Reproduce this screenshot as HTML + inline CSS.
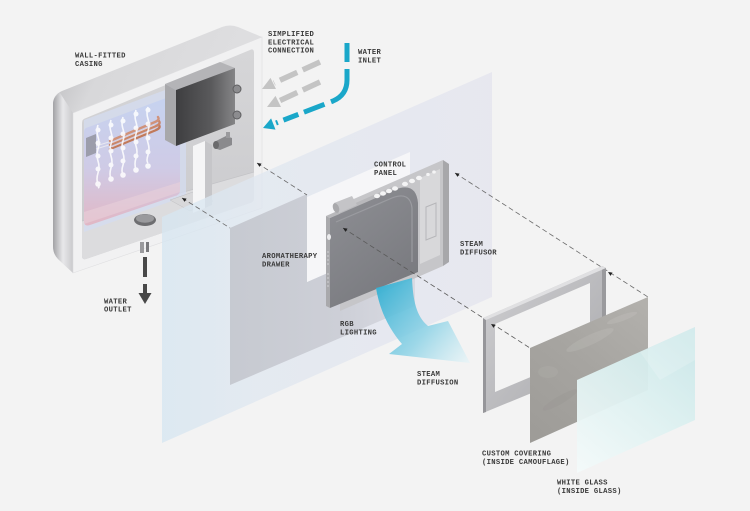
<!DOCTYPE html>
<html><head><meta charset="utf-8">
<style>
html,body{margin:0;padding:0;background:#f3f3f3;}
svg{display:block}
text{font-family:"Liberation Mono",monospace;font-size:7.2px;font-weight:bold;fill:#3a3a3a;letter-spacing:0.3px}
</style></head><body>
<svg width="750" height="511" viewBox="0 0 750 511" xmlns="http://www.w3.org/2000/svg">
<defs>
  <linearGradient id="shell" x1="0" y1="0" x2="1" y2="0.6">
    <stop offset="0" stop-color="#b4b4b7"/><stop offset="0.25" stop-color="#d8d8da"/><stop offset="1" stop-color="#e2e2e4"/>
  </linearGradient>
  <linearGradient id="shellL" x1="53" y1="0" x2="73" y2="0" gradientUnits="userSpaceOnUse">
    <stop offset="0" stop-color="#a2a2a5"/><stop offset="0.5" stop-color="#e8e8ea"/><stop offset="1" stop-color="#c9c9cc"/>
  </linearGradient>
  <linearGradient id="cav" x1="0" y1="0" x2="0" y2="1">
    <stop offset="0" stop-color="#d6d6d8"/><stop offset="1" stop-color="#c9c9cc"/>
  </linearGradient>
  <linearGradient id="tank" x1="0" y1="95" x2="0" y2="228" gradientUnits="userSpaceOnUse">
    <stop offset="0" stop-color="#c6d3f0"/><stop offset="0.55" stop-color="#cfcbe6"/><stop offset="1" stop-color="#e2b6c3"/>
  </linearGradient>
  <linearGradient id="ebox" x1="176" y1="0" x2="235" y2="0" gradientUnits="userSpaceOnUse">
    <stop offset="0" stop-color="#3e3e40"/><stop offset="0.6" stop-color="#5a5a5c"/><stop offset="1" stop-color="#858587"/>
  </linearGradient>
  <linearGradient id="pale" x1="162" y1="0" x2="492" y2="0" gradientUnits="userSpaceOnUse">
    <stop offset="0" stop-color="#d6e6f1"/><stop offset="0.3" stop-color="#e0e7f0"/><stop offset="1" stop-color="#e4e4ee"/>
  </linearGradient>
  <linearGradient id="greyp" x1="230" y1="0" x2="415" y2="0" gradientUnits="userSpaceOnUse">
    <stop offset="0" stop-color="#c4c7ce"/><stop offset="0.6" stop-color="#cbcdd5"/><stop offset="1" stop-color="#d8d9e1"/>
  </linearGradient>
  <linearGradient id="body" x1="330" y1="190" x2="418" y2="300" gradientUnits="userSpaceOnUse">
    <stop offset="0" stop-color="#8e8f94"/><stop offset="1" stop-color="#76777c"/>
  </linearGradient>
  <linearGradient id="steam" x1="378" y1="285" x2="470" y2="362" gradientUnits="userSpaceOnUse">
    <stop offset="0" stop-color="#34b0d3" stop-opacity="0.95"/><stop offset="0.55" stop-color="#86d0e5" stop-opacity="0.8"/><stop offset="1" stop-color="#e4f4f8" stop-opacity="0.6"/>
  </linearGradient>
  <linearGradient id="frame" x1="0" y1="0" x2="1" y2="1">
    <stop offset="0" stop-color="#cfcfd2"/><stop offset="1" stop-color="#a9a9ac"/>
  </linearGradient>
  <linearGradient id="stone" x1="648" y1="297" x2="530" y2="443" gradientUnits="userSpaceOnUse">
    <stop offset="0" stop-color="#b3b1ad"/><stop offset="0.5" stop-color="#a6a4a0"/><stop offset="1" stop-color="#9d9b97"/>
  </linearGradient>
  <linearGradient id="glass" x1="695" y1="327" x2="577" y2="472" gradientUnits="userSpaceOnUse">
    <stop offset="0" stop-color="#c8e6e8"/><stop offset="0.45" stop-color="#dcf0f0"/><stop offset="1" stop-color="#f4fafa"/>
  </linearGradient>
  <clipPath id="stoneclip"><polygon points="530,348 648,297 648,390 530,443"/></clipPath>
  <path id="ah" d="M0,0 L-4.2,-1.9 L-4.2,1.9 Z" fill="#222"/>
</defs>

<rect width="750" height="511" fill="#f3f3f3"/>

<!-- ============ CASING ============ -->
<path d="M73,273 L58,259 Q53,254 53,246 L53,104 Q53,95 62,91 L222,27 Q230,24 238,27 L262,37 L73,113 Z" fill="url(#shell)"/>
<path d="M73,273 L58,259 Q53,254 53,246 L53,104 Q53,97 60,93 L73,113 Z" fill="url(#shellL)"/>
<polygon points="73,113 262,37 262,208 73,273" fill="#f1f1f2" stroke="#dedee0" stroke-width="0.6"/>
<path d="M86,118 L250,50 Q254,48 254,53 L254,198 Q254,202 250,203 L86,259 Q82,260 82,256 L82,123 Q82,119 86,118 Z" fill="url(#cav)"/>
<path d="M82,221 L254,172 L254,198 Q254,202 250,203 L86,259 Q82,260 82,256 Z" fill="#dcdcde"/>
<line x1="82" y1="221" x2="254" y2="172" stroke="#c4c4c7" stroke-width="0.8"/>
<path d="M84,120 L176,86 L186,89 L186,196 L84,232 Z" fill="#d4dcf0" opacity="0.75"/>
<path d="M86,128 L174,95 Q180,93 180,99 L180,190 Q180,195 175,196 L90,225 Q84,227 84,221 L84,133 Q84,129 86,128 Z" fill="url(#tank)"/>
<path d="M84,212 L180,182 L180,192 L84,224 Z" fill="#ead2da" opacity="0.55"/>
<polygon points="86,138 96,134 96,153 86,157" fill="#9c9dab"/>
<line x1="96" y1="149" x2="112" y2="144" stroke="#e8e8f0" stroke-width="1"/>
<line x1="96" y1="146" x2="112" y2="141" stroke="#e8e8f0" stroke-width="1"/>
<g stroke-linecap="round" fill="none">
  <path d="M110,149 L156,130 Q161,128 159,125" stroke="#c07a5c" stroke-width="2.4"/>
  <path d="M110,145 L156,126 Q161,124 159,121" stroke="#c9866a" stroke-width="2.4"/>
  <path d="M110,141 L155,122 Q160,120 158,117" stroke="#d0927a" stroke-width="2.4"/>
  <path d="M112,147 L155,129" stroke="#f3d6cc" stroke-width="0.6"/>
  <path d="M112,143 L155,125" stroke="#f3d6cc" stroke-width="0.6"/>
</g>
<g fill="#ffffff" stroke="#ffffff" opacity="0.85">
  <path d="M98,125 q-2,6 0,12 q2,6 0,12 q-2,6 0,12 q2,6 0,12 q-2,6 0,12 q2,2 0,3" fill="none" stroke-width="1.6"/>
  <circle cx="98" cy="130" r="2"/><circle cx="98" cy="143" r="2"/><circle cx="98" cy="156" r="2"/><circle cx="98" cy="169" r="2"/><circle cx="98" cy="184" r="2.3"/>
  <path d="M111,120 q-2,6 0,12 q2,6 0,12 q-2,6 0,12 q2,6 0,12 q-2,6 0,12" fill="none" stroke-width="1.6"/>
  <circle cx="111" cy="125" r="2"/><circle cx="111" cy="138" r="2"/><circle cx="111" cy="151" r="2"/><circle cx="111" cy="165" r="2"/><circle cx="111" cy="179" r="2.3"/>
  <path d="M123,117 q-2,6 0,12 q2,6 0,12 q-2,6 0,12 q2,6 0,12 q-2,6 0,10" fill="none" stroke-width="1.6"/>
  <circle cx="123" cy="121" r="2"/><circle cx="123" cy="134" r="2"/><circle cx="123" cy="148" r="2"/><circle cx="123" cy="161" r="2"/><circle cx="123" cy="175" r="2.3"/>
  <path d="M136,110 q-2,6 0,12 q2,6 0,12 q-2,6 0,12 q2,6 0,12 q-2,6 0,12" fill="none" stroke-width="1.6"/>
  <circle cx="136" cy="114" r="2"/><circle cx="136" cy="128" r="2"/><circle cx="136" cy="142" r="2"/><circle cx="136" cy="156" r="2"/><circle cx="136" cy="170" r="2.3"/>
  <path d="M148,107 q-2,6 0,12 q2,6 0,12 q-2,6 0,12 q2,6 0,12 q-2,6 0,8" fill="none" stroke-width="1.6"/>
  <circle cx="148" cy="110" r="2"/><circle cx="148" cy="124" r="2"/><circle cx="148" cy="138" r="2"/><circle cx="148" cy="152" r="2"/><circle cx="148" cy="166" r="2.3"/>
</g>
<!-- electrical box -->
<polygon points="165,84 220,62 235,68 176,90" fill="#b4b4b7"/>
<polygon points="165,84 176,90 176,146 165,140" fill="#a8a8ab"/>
<polygon points="176,90 235,68 235,124 176,146" fill="url(#ebox)"/>
<circle cx="237" cy="89" r="4" fill="#8c8c8f" stroke="#5e5e60" stroke-width="1"/>
<circle cx="237" cy="115" r="4" fill="#8c8c8f" stroke="#5e5e60" stroke-width="1"/>
<path d="M214,142 L226,136 L232,138 L232,145 L220,150 L214,148 Z" fill="#8a8a8d"/>
<ellipse cx="216" cy="145" rx="3" ry="4" fill="#6a6a6c"/>
<rect x="226" y="132" width="4" height="6" fill="#9a9a9d"/>
<polygon points="170,200 193,192 213,201 190,211" fill="#d8d8da" stroke="#bfbfc2" stroke-width="0.5"/>
<polygon points="205,141 212,145 212,205 205,208" fill="#c6c6c9"/>
<polygon points="193,146 205,141 205,208 193,213" fill="#f5f5f6"/>
<ellipse cx="145" cy="220" rx="11" ry="6" fill="#6e6e71"/>
<ellipse cx="145" cy="218.5" rx="9" ry="4.2" fill="#9a9a9d"/>
<rect x="140" y="242" width="4" height="11" fill="#9a9a9d"/>
<rect x="146" y="242" width="3" height="10" fill="#7a7a7d"/>

<!-- ============ WALL PANELS ============ -->
<polygon points="162,217 492,72 492,297 162,443" fill="url(#pale)" opacity="0.78"/>
<path d="M230,228 L307,194 L307,282 L415,234 L415,306 L230,385 Z" fill="url(#greyp)" opacity="0.92"/>
<polygon points="307,197 410,152 410,237 307,282" fill="#f6f6f8"/>

<g stroke="#6a6a6a" stroke-width="0.8" stroke-dasharray="5 3" fill="none">
  <line x1="182" y1="198" x2="230" y2="228"/>
  <line x1="257" y1="163" x2="307" y2="195"/>
  <line x1="455" y1="173" x2="648" y2="297"/>
</g>

<!-- ============ DIFFUSER ============ -->
<polygon points="443,160 449,164 449,262 443,266" fill="#a7a7aa"/>
<polygon points="340,205 443,160 443,266 340,311" fill="#c6c6c9"/>
<polygon points="420,178 440,169 440,255 420,264" fill="#d8d8da"/>
<polygon points="426,207 436,203 436,236 426,240" fill="none" stroke="#b6b6b9" stroke-width="1"/>
<polygon points="326,216 392,187 396,189 330,218" fill="#b8b8bb"/>
<polygon points="326,216 330,218 330,308 326,306" fill="#a9a9ac"/>
<path d="M330,218 L394,190 Q416,181 418,203 L418,272 L330,308 Z" fill="url(#body)"/>
<path d="M336,222 L392,198 Q410,191 412,208 L412,262" fill="none" stroke="#9a9ba0" stroke-width="1.2"/>
<g stroke="#d4d4d6" stroke-width="0.9">
  <line x1="327" y1="252" x2="329" y2="252"/><line x1="327" y1="256" x2="329" y2="256"/><line x1="327" y1="260" x2="329" y2="260"/><line x1="327" y1="264" x2="329" y2="264"/>
  <line x1="327" y1="274" x2="329" y2="274"/><line x1="327" y1="278" x2="329" y2="278"/><line x1="327" y1="282" x2="329" y2="282"/><line x1="327" y1="286" x2="329" y2="286"/>
</g>
<ellipse cx="329" cy="237" rx="2" ry="3" fill="#ececee"/>
<polygon points="334,203 352,196 357,205 339,213" fill="#c4c4c7"/>
<ellipse cx="336" cy="208" rx="3" ry="5" fill="#a9a9ac" transform="rotate(-20 336 208)"/>
<g fill="#f4f4f5">
  <ellipse cx="377" cy="196" rx="3" ry="2.2"/><ellipse cx="383" cy="193.5" rx="3" ry="2.2"/><ellipse cx="389" cy="191" rx="3" ry="2.2"/><ellipse cx="395" cy="188.5" rx="3" ry="2.2"/>
  <ellipse cx="405" cy="184" rx="3" ry="2.2"/><ellipse cx="412" cy="181" rx="3" ry="2.2"/><ellipse cx="419" cy="178" rx="3" ry="2.2"/>
  <ellipse cx="428" cy="174.5" rx="1.8" ry="1.6"/><ellipse cx="434" cy="172" rx="1.8" ry="1.6"/>
</g>

<path d="M376,288 L412,278 C413,300 416,316 428,326 L448,321 L470,363 L389,354 L402,344 C390,330 380,312 376,288 Z" fill="url(#steam)"/>

<line x1="343" y1="228" x2="530" y2="348" stroke="#5a5a5a" stroke-width="0.8" stroke-dasharray="5 3"/>

<!-- ============ RIGHT PARTS ============ -->
<path d="M483,318 L602,266 L602,364 L483,413 Z M495,324 L590,283 L590,352 L495,392 Z" fill="url(#frame)" fill-rule="evenodd"/>
<polygon points="602,266 606,268 606,363 602,364" fill="#9a9a9d"/>
<polygon points="483,318 486,320 486,412 483,413" fill="#96969a"/>
<polygon points="483,318 602,266 606,268 486,320" fill="#e0e0e2"/>

<polygon points="530,348 648,297 648,390 530,443" fill="url(#stone)"/>
<g clip-path="url(#stoneclip)" opacity="0.18">
  <ellipse cx="590" cy="340" rx="26" ry="5" fill="#d2d0cc" transform="rotate(-25 590 340)"/>
  <ellipse cx="560" cy="400" rx="20" ry="4" fill="#8f8d89" transform="rotate(-30 560 400)"/>
  <ellipse cx="622" cy="318" rx="16" ry="3" fill="#d6d4d0" transform="rotate(-20 622 318)"/>
  <ellipse cx="548" cy="372" rx="10" ry="6" fill="#bdbbb7"/>
  <ellipse cx="608" cy="372" rx="18" ry="4" fill="#c2c0bc" transform="rotate(-35 608 372)"/>
</g>
<polygon points="577,380 695,327 695,420 577,473" fill="url(#glass)" opacity="0.95"/>
<polygon points="640,352 695,327 695,360 660,380" fill="#ffffff" opacity="0.18"/>

<use href="#ah" transform="translate(182,198) rotate(212)"/>
<use href="#ah" transform="translate(257,163) rotate(212.6)"/>
<use href="#ah" transform="translate(343,228) rotate(212.6)"/>
<use href="#ah" transform="translate(455,173) rotate(212.6)"/>
<use href="#ah" transform="translate(491,324) rotate(212.6)"/>
<use href="#ah" transform="translate(608,272) rotate(212.6)"/>

<!-- ============ FLOW ARROWS ============ -->
<g fill="none" stroke="#c4c4c4" stroke-width="5.5">
  <line x1="320" y1="62" x2="274" y2="83" stroke-dasharray="19 6"/>
  <line x1="320" y1="82" x2="279" y2="101" stroke-dasharray="19 6"/>
</g>
<polygon points="262,89 270.5,77.9 276,89" fill="#c4c4c4"/>
<polygon points="267,107 275.5,95.9 281,107" fill="#c4c4c4"/>

<path d="M347,43 L347,80 Q347,95 333,101 L276,123" fill="none" stroke="#1aa7c9" stroke-width="5" stroke-dasharray="19 7 40 7 22 6 16 6"/>
<polygon points="263,128 271.1,118.4 275.5,129.6" fill="#1aa7c9"/>

<g stroke="#484848" stroke-width="4">
  <line x1="145" y1="257" x2="145" y2="277"/>
  <line x1="145" y1="284" x2="145" y2="294"/>
</g>
<polygon points="138.5,293 151.5,293 145,304" fill="#484848"/>

<!-- ============ LABELS ============ -->
<text x="75" y="57.5">WALL-FITTED</text>
<text x="75" y="66">CASING</text>
<text x="268" y="36">SIMPLIFIED</text>
<text x="268" y="44.3">ELECTRICAL</text>
<text x="268" y="52.6">CONNECTION</text>
<text x="358" y="54">WATER</text>
<text x="358" y="62.3">INLET</text>
<text x="104" y="303.3">WATER</text>
<text x="104" y="311.6">OUTLET</text>
<text x="374" y="166.5">CONTROL</text>
<text x="374" y="174.8">PANEL</text>
<text x="262" y="258">AROMATHERAPY</text>
<text x="262" y="266.3">DRAWER</text>
<text x="460" y="246">STEAM</text>
<text x="460" y="254.3">DIFFUSOR</text>
<text x="340" y="326">RGB</text>
<text x="340" y="334.3">LIGHTING</text>
<text x="417" y="376">STEAM</text>
<text x="417" y="384.3">DIFFUSION</text>
<text x="482" y="455.7">CUSTOM COVERING</text>
<text x="482" y="464.2">(INSIDE CAMOUFLAGE)</text>
<text x="557" y="484.7">WHITE GLASS</text>
<text x="557" y="493.2">(INSIDE GLASS)</text>
</svg>
</body></html>
